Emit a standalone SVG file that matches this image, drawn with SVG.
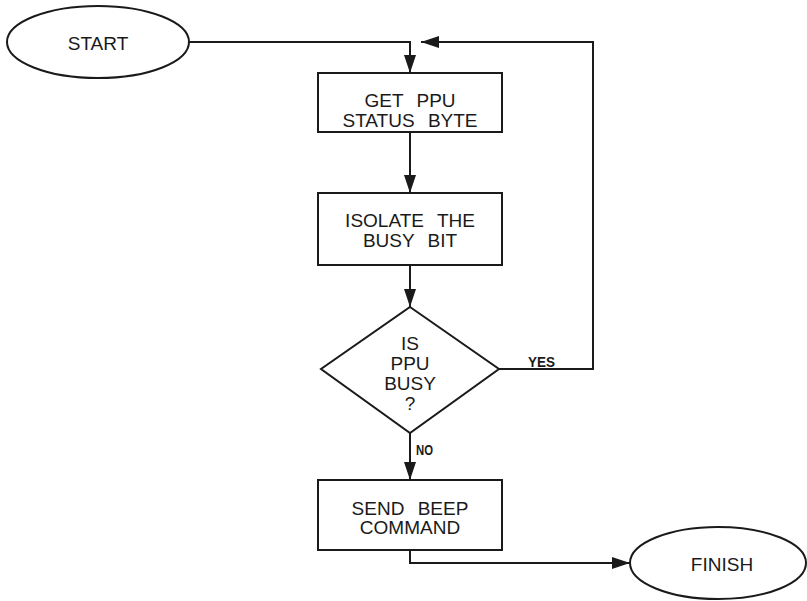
<svg xmlns="http://www.w3.org/2000/svg" width="807" height="601" viewBox="0 0 807 601">
<defs>
<style>
.shape{fill:none;stroke:#1a1a1a;stroke-width:2}
.line{fill:none;stroke:#1a1a1a;stroke-width:2}
.t{font-family:"Liberation Sans",Arial,sans-serif;font-size:19px;fill:#1a1a1a;text-anchor:middle;dominant-baseline:central;word-spacing:8px}
.s{font-family:"Liberation Sans",Arial,sans-serif;font-size:15px;font-weight:bold;fill:#1a1a1a;dominant-baseline:central}
</style>
<marker id="arr" viewBox="0 0 18 12" refX="18" refY="6" markerWidth="18" markerHeight="12" markerUnits="userSpaceOnUse" orient="auto">
<path d="M0,0 L18,6 L0,12 Z" fill="#1a1a1a"/>
</marker>
</defs>
<rect width="807" height="601" fill="#ffffff"/>
<g id="connectors">
<polyline class="line" points="189,42 410,42 410,73" marker-end="url(#arr)"/>
<polyline class="line" points="499,369 593,369 593,42 421,42" marker-end="url(#arr)"/>
<line class="line" x1="410" y1="132" x2="410" y2="193" marker-end="url(#arr)"/>
<line class="line" x1="410" y1="265" x2="410" y2="307" marker-end="url(#arr)"/>
<line class="line" x1="410" y1="433" x2="410" y2="480" marker-end="url(#arr)"/>
<polyline class="line" points="410,550 410,563 630,563" marker-end="url(#arr)"/>
<text class="s" x="528" y="361" textLength="27" lengthAdjust="spacingAndGlyphs">YES</text>
<text class="s" x="416" y="449" textLength="17" lengthAdjust="spacingAndGlyphs">NO</text>
</g>
<g id="start">
<ellipse class="shape" cx="98" cy="42" rx="91" ry="36"/>
<text class="t" x="98" y="43">START</text>
</g>
<g id="get-status">
<rect class="shape" x="318" y="73" width="184" height="59"/>
<text class="t" x="410" y="100">GET PPU</text>
<text class="t" x="410" y="120">STATUS BYTE</text>
</g>
<g id="isolate">
<rect class="shape" x="318" y="193" width="184" height="72"/>
<text class="t" x="410" y="220">ISOLATE THE</text>
<text class="t" x="410" y="240">BUSY BIT</text>
</g>
<g id="busy-decision">
<polygon class="shape" points="410,307 499,369 410,433 321,369"/>
<text class="t" x="410" y="343">IS</text>
<text class="t" x="410" y="363">PPU</text>
<text class="t" x="410" y="383">BUSY</text>
<text class="t" x="410" y="403">?</text>
</g>
<g id="send-beep">
<rect class="shape" x="318" y="480" width="184" height="70"/>
<text class="t" x="410" y="508">SEND BEEP</text>
<text class="t" x="410" y="527">COMMAND</text>
</g>
<g id="finish">
<ellipse class="shape" cx="718" cy="563" rx="88" ry="36"/>
<text class="t" x="722" y="564">FINISH</text>
</g>
</svg>
